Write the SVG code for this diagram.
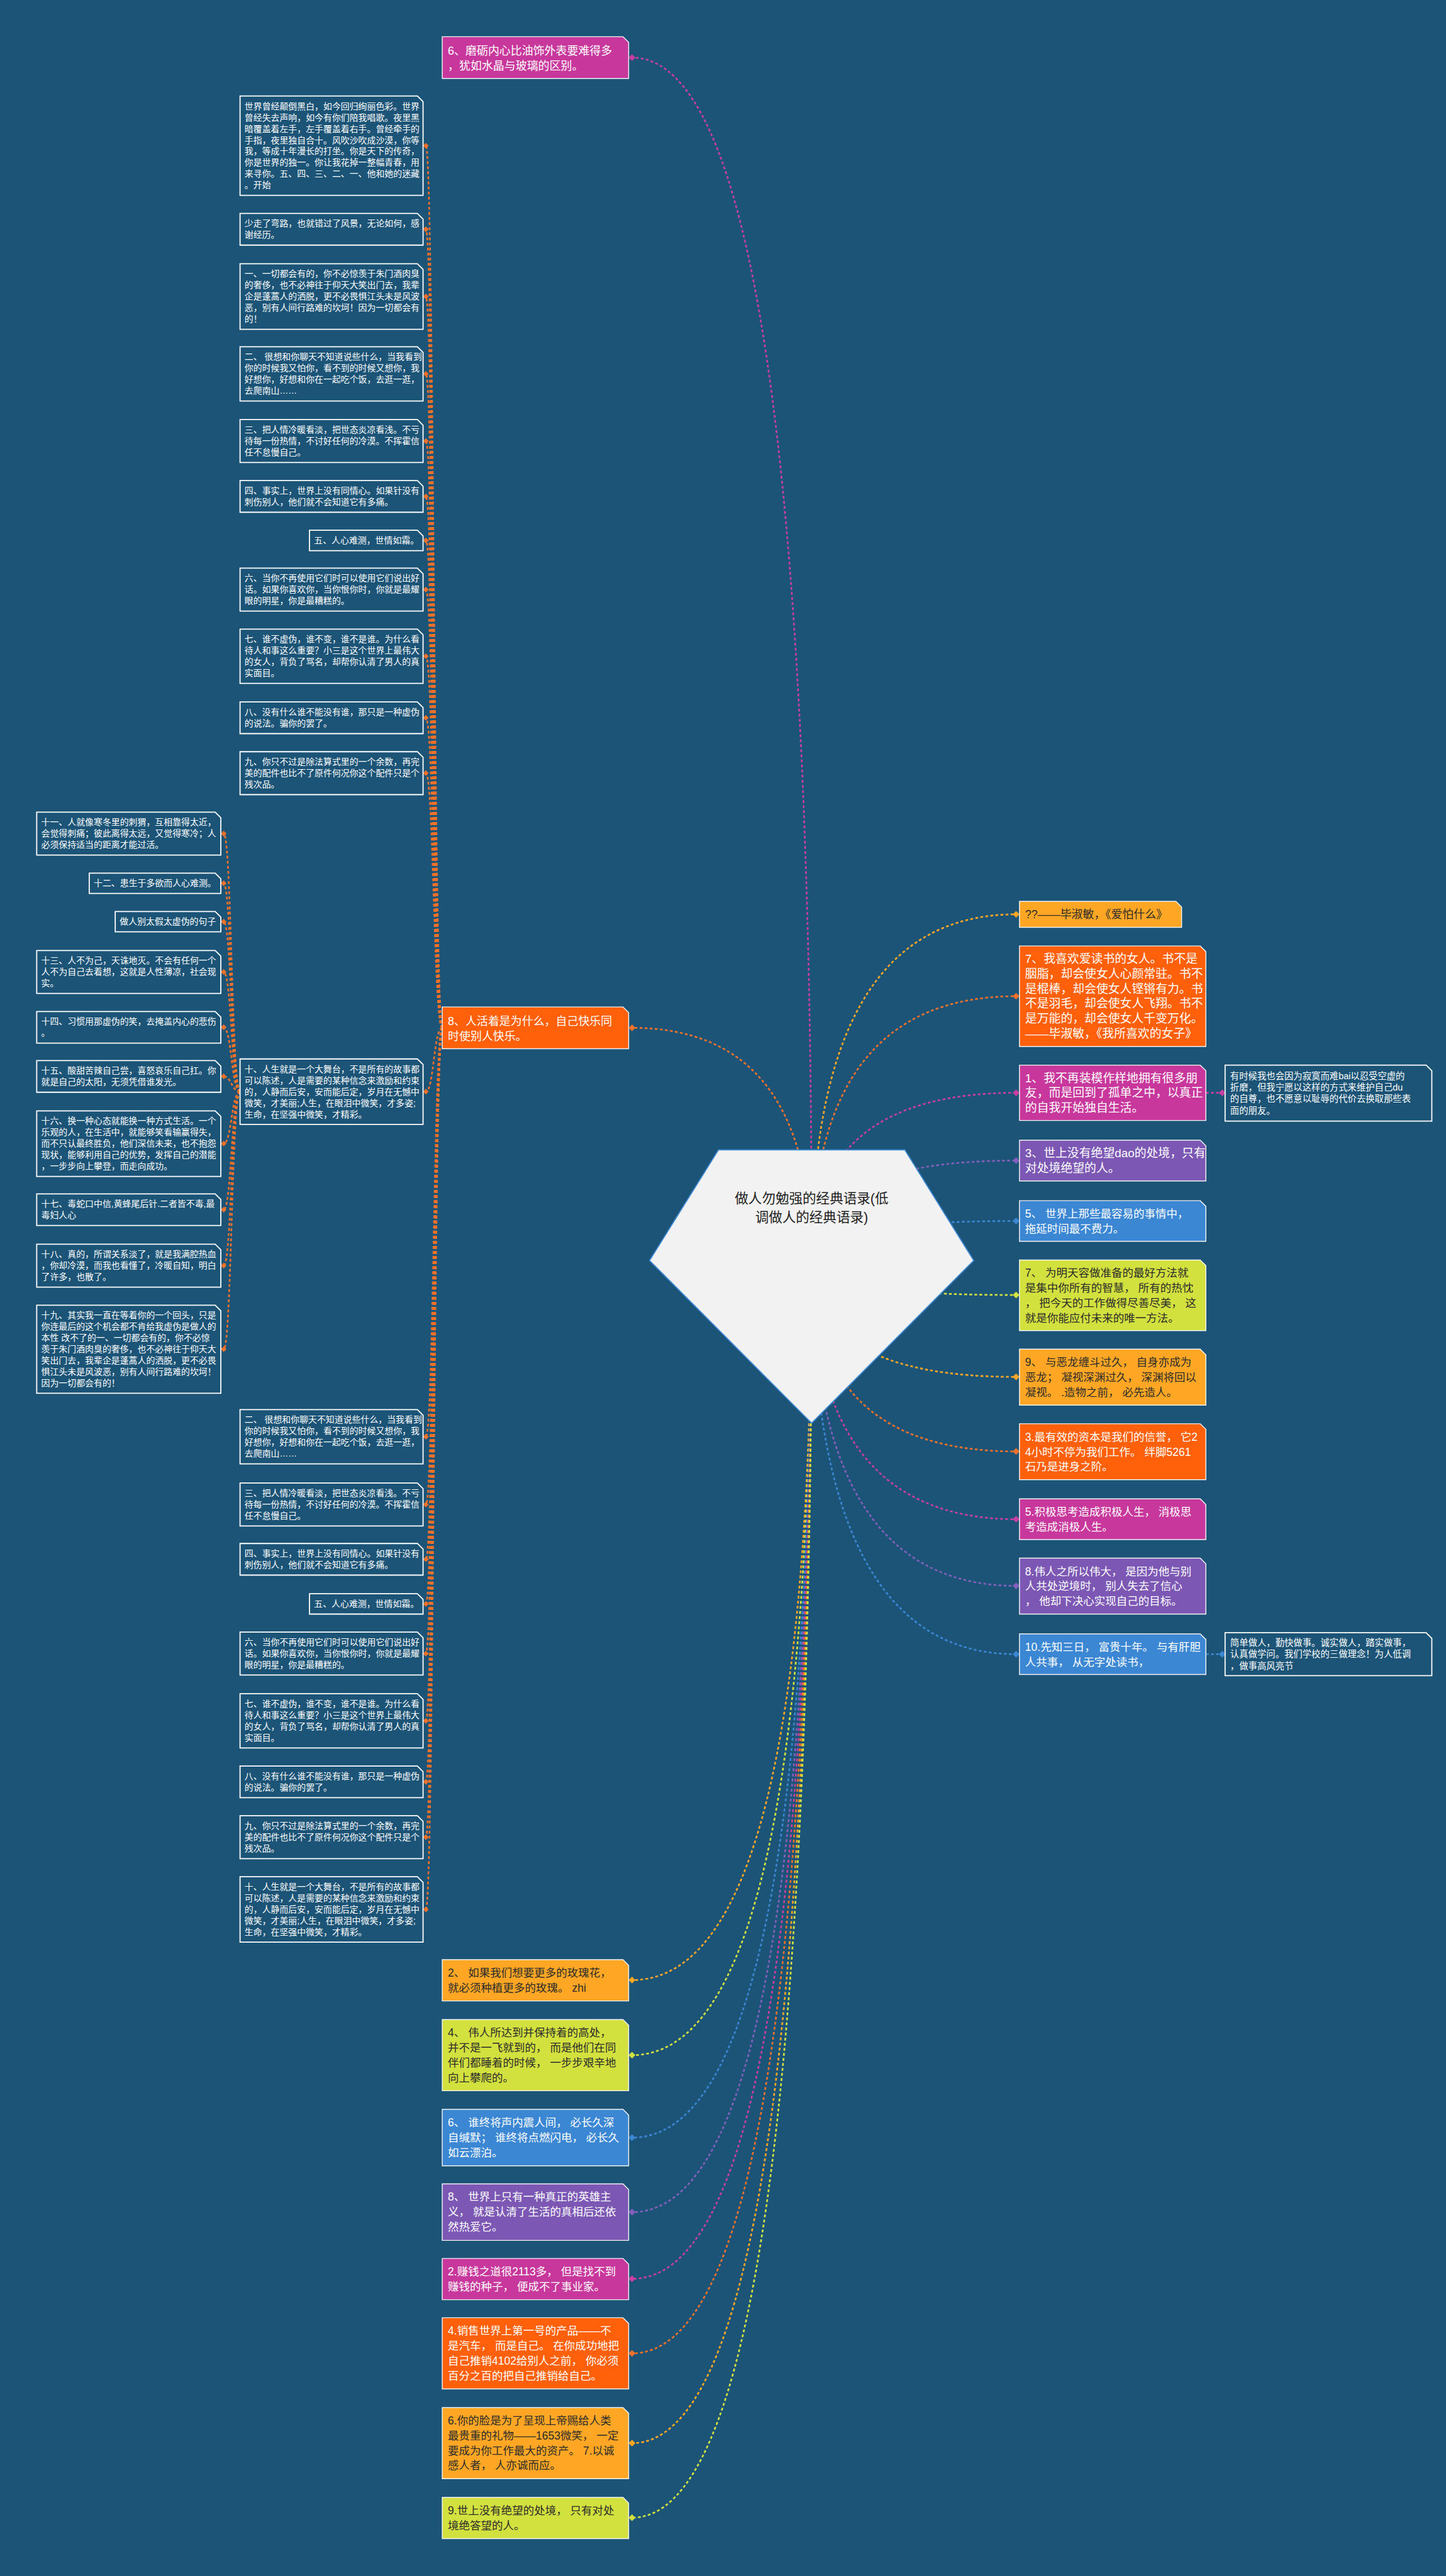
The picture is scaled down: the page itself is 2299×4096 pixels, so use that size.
<svg xmlns="http://www.w3.org/2000/svg" width="2299" height="4096" viewBox="0 0 2299 4096">
<defs>
<style>
text{font-family:"Liberation Sans","Noto Sans CJK SC",sans-serif}
.w{fill:#ffffff}
.d{fill:#2b2b2b}
.s1{font-size:15.5px}
.s2{font-size:21px}
.s3{font-size:19.5px}
.s4{font-size:20px}
.s5{font-size:16px}
.bx{stroke:#ffffff;stroke-width:2}
.cb{stroke:#f4f4f4;stroke-width:1.6}
.dk{fill:#1c5478}
.mg{fill:#C8379C}
.or{fill:#FF6009}
.oy{fill:#FFA724}
.pu{fill:#7C57B4}
.bl{fill:#3B87D4}
.yg{fill:#D3E13F}
.cn{fill:none;stroke-width:3;stroke-dasharray:5 4}
.c-or{stroke:#F0712A;marker-end:url(#d-or)}
.c-mg{stroke:#C83FA0;marker-end:url(#d-mg)}
.c-oy{stroke:#FFA724;marker-end:url(#d-oy)}
.c-pu{stroke:#8460BC;marker-end:url(#d-pu)}
.c-bl{stroke:#3B87D4;marker-end:url(#d-bl)}
.c-yg{stroke:#D3E13F;marker-end:url(#d-yg)}
.c-sm{stroke:#F0712A;marker-end:url(#d-sm)}
</style>
<marker id="d-or" markerUnits="userSpaceOnUse" viewBox="0 0 12 12" refX="6" refY="6" markerWidth="12" markerHeight="12"><path d="M6 0L12 6L6 12L0 6Z" fill="#F0712A"/></marker>
<marker id="d-mg" markerUnits="userSpaceOnUse" viewBox="0 0 12 12" refX="6" refY="6" markerWidth="12" markerHeight="12"><path d="M6 0L12 6L6 12L0 6Z" fill="#C83FA0"/></marker>
<marker id="d-oy" markerUnits="userSpaceOnUse" viewBox="0 0 12 12" refX="6" refY="6" markerWidth="12" markerHeight="12"><path d="M6 0L12 6L6 12L0 6Z" fill="#FFA724"/></marker>
<marker id="d-pu" markerUnits="userSpaceOnUse" viewBox="0 0 12 12" refX="6" refY="6" markerWidth="12" markerHeight="12"><path d="M6 0L12 6L6 12L0 6Z" fill="#8460BC"/></marker>
<marker id="d-bl" markerUnits="userSpaceOnUse" viewBox="0 0 12 12" refX="6" refY="6" markerWidth="12" markerHeight="12"><path d="M6 0L12 6L6 12L0 6Z" fill="#3B87D4"/></marker>
<marker id="d-yg" markerUnits="userSpaceOnUse" viewBox="0 0 12 12" refX="6" refY="6" markerWidth="12" markerHeight="12"><path d="M6 0L12 6L6 12L0 6Z" fill="#D3E13F"/></marker>
<marker id="d-sm" markerUnits="userSpaceOnUse" viewBox="0 0 10 10" refX="5" refY="5" markerWidth="10" markerHeight="10"><path d="M5 0L10 5L5 10L0 5Z" fill="#F0712A"/></marker>
</defs>
<rect x="0" y="0" width="2299" height="4096" fill="#1c5478"/>
<g transform="scale(0.898)">
<g id="connectors">
<path class="cn c-mg" d="M1437 2232Q1437 102 1119 102"/>
<path class="cn c-or" d="M1437 2232Q1437 1820 1119 1820"/>
<path class="cn c-oy" d="M1437 2232Q1437 1619 1799 1619"/>
<path class="cn c-or" d="M1437 2232Q1437 1764 1799 1764"/>
<path class="cn c-mg" d="M1437 2232Q1437 1935 1799 1935"/>
<path class="cn c-pu" d="M1437 2232Q1437 2055 1799 2055"/>
<path class="cn c-bl" d="M1437 2232Q1437 2162 1799 2162"/>
<path class="cn c-yg" d="M1437 2232Q1437 2293 1799 2293"/>
<path class="cn c-oy" d="M1437 2232Q1437 2438 1799 2438"/>
<path class="cn c-or" d="M1437 2232Q1437 2570 1799 2570"/>
<path class="cn c-mg" d="M1437 2232Q1437 2690 1799 2690"/>
<path class="cn c-pu" d="M1437 2232Q1437 2808 1799 2808"/>
<path class="cn c-bl" d="M1437 2232Q1437 2929 1799 2929"/>
<path class="cn c-oy" d="M1437 2232Q1437 3506 1119 3506"/>
<path class="cn c-yg" d="M1437 2232Q1437 3639 1119 3639"/>
<path class="cn c-bl" d="M1437 2232Q1437 3785 1119 3785"/>
<path class="cn c-pu" d="M1437 2232Q1437 3917 1119 3917"/>
<path class="cn c-mg" d="M1437 2232Q1437 4035 1119 4035"/>
<path class="cn c-or" d="M1437 2232Q1437 4167 1119 4167"/>
<path class="cn c-oy" d="M1437 2232Q1437 4326 1119 4326"/>
<path class="cn c-yg" d="M1437 2232Q1437 4458 1119 4458"/>
<path class="cn c-mg" d="M2135 1935L2164 1935"/>
<path class="cn c-bl" d="M2135 2929L2164 2929"/>
<path class="cn c-sm" d="M783 1820C768 1820 768 258 754 258"/>
<path class="cn c-sm" d="M783 1820C768 1820 768 406 754 406"/>
<path class="cn c-sm" d="M783 1820C768 1820 768 525 754 525"/>
<path class="cn c-sm" d="M783 1820C768 1820 768 662 754 662"/>
<path class="cn c-sm" d="M783 1820C768 1820 768 781 754 781"/>
<path class="cn c-sm" d="M783 1820C768 1820 768 879 754 879"/>
<path class="cn c-sm" d="M783 1820C768 1820 768 957 754 957"/>
<path class="cn c-sm" d="M783 1820C768 1820 768 1044 754 1044"/>
<path class="cn c-sm" d="M783 1820C768 1820 768 1162 754 1162"/>
<path class="cn c-sm" d="M783 1820C768 1820 768 1271 754 1271"/>
<path class="cn c-sm" d="M783 1820C768 1820 768 1369 754 1369"/>
<path class="cn c-sm" d="M783 1820C768 1820 768 1933 754 1933"/>
<path class="cn c-sm" d="M783 1820C768 1820 768 2544 754 2544"/>
<path class="cn c-sm" d="M783 1820C768 1820 768 2664 754 2664"/>
<path class="cn c-sm" d="M783 1820C768 1820 768 2761 754 2761"/>
<path class="cn c-sm" d="M783 1820C768 1820 768 2840 754 2840"/>
<path class="cn c-sm" d="M783 1820C768 1820 768 2928 754 2928"/>
<path class="cn c-sm" d="M783 1820C768 1820 768 3047 754 3047"/>
<path class="cn c-sm" d="M783 1820C768 1820 768 3155 754 3155"/>
<path class="cn c-sm" d="M783 1820C768 1820 768 3253 754 3253"/>
<path class="cn c-sm" d="M783 1820C768 1820 768 3381 754 3381"/>
<path class="cn c-sm" d="M425 1933C410 1933 410 1476 396 1476"/>
<path class="cn c-sm" d="M425 1933C410 1933 410 1564 396 1564"/>
<path class="cn c-sm" d="M425 1933C410 1933 410 1632 396 1632"/>
<path class="cn c-sm" d="M425 1933C410 1933 410 1721 396 1721"/>
<path class="cn c-sm" d="M425 1933C410 1933 410 1819 396 1819"/>
<path class="cn c-sm" d="M425 1933C410 1933 410 1906 396 1906"/>
<path class="cn c-sm" d="M425 1933C410 1933 410 2025 396 2025"/>
<path class="cn c-sm" d="M425 1933C410 1933 410 2142 396 2142"/>
<path class="cn c-sm" d="M425 1933C410 1933 410 2241 396 2241"/>
<path class="cn c-sm" d="M425 1933C410 1933 410 2389 396 2389"/>
</g>

<g id="root">
<path d="M1272 2036H1602L1724 2232L1437 2520L1150 2232Z" fill="#F2F2F2" stroke="#3B87D4" stroke-width="2"/>
<text x="1437" y="2130" text-anchor="middle" style="font-size:24px;fill:#1e1e1e"><tspan x="1437">做人勿勉强的经典语录(低</tspan><tspan x="1437" dy="34">调做人的经典语录)</tspan></text>
</g>

<g id="n-top6">
<path class="cb mg" d="M783 65H1103L1113 75V139H783Z"/>
<text class="s4 w" x="793" y="97"><tspan x="793">6、磨砺内心比油饰外表要难得多</tspan><tspan x="793" dy="26.5">，犹如水晶与玻璃的区别。</tspan></text>
</g>

<g id="n-8">
<path class="cb or" d="M783 1783H1103L1113 1793V1857H783Z"/>
<text class="s4 w" x="793" y="1815"><tspan x="793">8、人活着是为什么，自己快乐同</tspan><tspan x="793" dy="26.5">时使别人快乐。</tspan></text>
</g>

<g id="a1">
<path class="bx dk" d="M425 170H739L749 180V346H425Z"/>
<text class="s1 w" x="433" y="193.4"><tspan x="433">世界曾经颠倒黑白，如今回归绚丽色彩。世界</tspan><tspan x="433" dy="20">曾经失去声响，如今有你们陪我唱歌。夜里黑</tspan><tspan x="433" dy="20">暗覆盖着左手，左手覆盖着右手。曾经牵手的</tspan><tspan x="433" dy="20">手指，夜里独自合十。风吹沙吹成沙漠，你等</tspan><tspan x="433" dy="20">我，等成十年漫长的打坐。你是天下的传奇，</tspan><tspan x="433" dy="20">你是世界的独一。你让我花掉一整幅青春，用</tspan><tspan x="433" dy="20">来寻你。五、四、三、二、一、他和她的迷藏</tspan><tspan x="433" dy="20">。开始</tspan></text>
</g>
<g id="a2">
<path class="bx dk" d="M425 378H739L749 388V434H425Z"/>
<text class="s1 w" x="433" y="401.4"><tspan x="433">少走了弯路，也就错过了风景，无论如何，感</tspan><tspan x="433" dy="20">谢经历。</tspan></text>
</g>
<g id="a3">
<path class="bx dk" d="M425 467H739L749 477V583H425Z"/>
<text class="s1 w" x="433" y="490.4"><tspan x="433">一、一切都会有的，你不必惊羡于朱门酒肉臭</tspan><tspan x="433" dy="20">的奢侈，也不必神往于仰天大笑出门去，我辈</tspan><tspan x="433" dy="20">企是蓬蒿人的洒脱，更不必畏惧江头未是风波</tspan><tspan x="433" dy="20">恶，别有人间行路难的坎坷！因为一切都会有</tspan><tspan x="433" dy="20">的！</tspan></text>
</g>
<g id="a4">
<path class="bx dk" d="M425 614H739L749 624V710H425Z"/>
<text class="s1 w" x="433" y="637.4"><tspan x="433">二、 很想和你聊天不知道说些什么，当我看到</tspan><tspan x="433" dy="20">你的时候我又怕你，看不到的时候又想你，我</tspan><tspan x="433" dy="20">好想你，好想和你在一起吃个饭，去逛一逛，</tspan><tspan x="433" dy="20">去爬南山……</tspan></text>
</g>
<g id="a5">
<path class="bx dk" d="M425 743H739L749 753V819H425Z"/>
<text class="s1 w" x="433" y="766.4"><tspan x="433">三、把人情冷暖看淡，把世态炎凉看浅。不亏</tspan><tspan x="433" dy="20">待每一份热情，不讨好任何的冷漠。不挥霍信</tspan><tspan x="433" dy="20">任不怠慢自己。</tspan></text>
</g>
<g id="a6">
<path class="bx dk" d="M425 851H739L749 861V907H425Z"/>
<text class="s1 w" x="433" y="874.4"><tspan x="433">四、事实上，世界上没有同情心。如果针没有</tspan><tspan x="433" dy="20">刺伤别人，他们就不会知道它有多痛。</tspan></text>
</g>
<g id="a7">
<path class="bx dk" d="M548 939H739L749 949V975H548Z"/>
<text class="s1 w" x="556" y="962.4">五、人心难测，世情如霜。</text>
</g>
<g id="a8">
<path class="bx dk" d="M425 1006H739L749 1016V1082H425Z"/>
<text class="s1 w" x="433" y="1029.4"><tspan x="433">六、当你不再使用它们时可以使用它们说出好</tspan><tspan x="433" dy="20">话。如果你喜欢你，当你恨你时，你就是最耀</tspan><tspan x="433" dy="20">眼的明星，你是最糟糕的。</tspan></text>
</g>
<g id="a9">
<path class="bx dk" d="M425 1114H739L749 1124V1210H425Z"/>
<text class="s1 w" x="433" y="1137.4"><tspan x="433">七、谁不虚伪，谁不变，谁不是谁。为什么看</tspan><tspan x="433" dy="20">待人和事这么重要？小三是这个世界上最伟大</tspan><tspan x="433" dy="20">的女人，背负了骂名，却帮你认清了男人的真</tspan><tspan x="433" dy="20">实面目。</tspan></text>
</g>
<g id="a10">
<path class="bx dk" d="M425 1243H739L749 1253V1299H425Z"/>
<text class="s1 w" x="433" y="1266.4"><tspan x="433">八、没有什么谁不能没有谁，那只是一种虚伪</tspan><tspan x="433" dy="20">的说法。骗你的罢了。</tspan></text>
</g>
<g id="a11">
<path class="bx dk" d="M425 1331H739L749 1341V1407H425Z"/>
<text class="s1 w" x="433" y="1354.4"><tspan x="433">九、你只不过是除法算式里的一个余数，再完</tspan><tspan x="433" dy="20">美的配件也比不了原件何况你这个配件只是个</tspan><tspan x="433" dy="20">残次品。</tspan></text>
</g>
<g id="a12">
<path class="bx dk" d="M425 1875H739L749 1885V1991H425Z"/>
<text class="s1 w" x="433" y="1898.4"><tspan x="433">十、人生就是一个大舞台，不是所有的故事都</tspan><tspan x="433" dy="20">可以陈述，人是需要的某种信念来激励和约束</tspan><tspan x="433" dy="20">的，人静而后安，安而能后定，岁月在无憾中</tspan><tspan x="433" dy="20">微笑，才美丽;人生，在眼泪中微笑，才多姿;</tspan><tspan x="433" dy="20">生命，在坚强中微笑，才精彩。</tspan></text>
</g>

<g id="f11">
<path class="bx dk" d="M65 1438H381L391 1448V1514H65Z"/>
<text class="s1 w" x="73" y="1461.4"><tspan x="73">十一、人就像寒冬里的刺猬，互相靠得太近，</tspan><tspan x="73" dy="20">会觉得刺痛；彼此离得太远，又觉得寒冷；人</tspan><tspan x="73" dy="20">必须保持适当的距离才能过活。</tspan></text>
</g>
<g id="f12">
<path class="bx dk" d="M158 1546H381L391 1556V1582H158Z"/>
<text class="s1 w" x="166" y="1569.4">十二、患生于多欲而人心难测。</text>
</g>
<g id="f-zuoren">
<path class="bx dk" d="M204 1614H381L391 1624V1650H204Z"/>
<text class="s1 w" x="212" y="1637.4">做人别太假太虚伪的句子</text>
</g>
<g id="f13">
<path class="bx dk" d="M65 1683H381L391 1693V1759H65Z"/>
<text class="s1 w" x="73" y="1706.4"><tspan x="73">十三、人不为己，天诛地灭。不会有任何一个</tspan><tspan x="73" dy="20">人不为自己去着想，这就是人性薄凉，社会现</tspan><tspan x="73" dy="20">实。</tspan></text>
</g>
<g id="f14">
<path class="bx dk" d="M65 1791H381L391 1801V1847H65Z"/>
<text class="s1 w" x="73" y="1814.4"><tspan x="73">十四、习惯用那虚伪的笑，去掩盖内心的悲伤</tspan><tspan x="73" dy="20">。</tspan></text>
</g>
<g id="f15">
<path class="bx dk" d="M65 1878H381L391 1888V1934H65Z"/>
<text class="s1 w" x="73" y="1901.4"><tspan x="73">十五、酸甜苦辣自己尝，喜怒哀乐自己扛。你</tspan><tspan x="73" dy="20">就是自己的太阳，无须凭借谁发光。</tspan></text>
</g>
<g id="f16">
<path class="bx dk" d="M65 1967H381L391 1977V2083H65Z"/>
<text class="s1 w" x="73" y="1990.4"><tspan x="73">十六、换一种心态就能换一种方式生活。一个</tspan><tspan x="73" dy="20">乐观的人，在生活中，就能够笑看输赢得失，</tspan><tspan x="73" dy="20">而不只认最终胜负，他们深信未来，也不抱怨</tspan><tspan x="73" dy="20">现状，能够利用自己的优势，发挥自己的潜能</tspan><tspan x="73" dy="20">，一步步向上攀登，而走向成功。</tspan></text>
</g>
<g id="f17">
<path class="bx dk" d="M65 2114H381L391 2124V2170H65Z"/>
<text class="s1 w" x="73" y="2137.4"><tspan x="73">十七、毒蛇口中信,黄蜂尾后针.二者皆不毒,最</tspan><tspan x="73" dy="20">毒妇人心</tspan></text>
</g>
<g id="f18">
<path class="bx dk" d="M65 2203H381L391 2213V2279H65Z"/>
<text class="s1 w" x="73" y="2226.4"><tspan x="73">十八、真的，所谓关系淡了，就是我满腔热血</tspan><tspan x="73" dy="20">，你却冷漠，而我也看懂了，冷暖自知，明白</tspan><tspan x="73" dy="20">了许多，也散了。</tspan></text>
</g>
<g id="f19">
<path class="bx dk" d="M65 2311H381L391 2321V2467H65Z"/>
<text class="s1 w" x="73" y="2334.4"><tspan x="73">十九、其实我一直在等着你的一个回头，只是</tspan><tspan x="73" dy="20">你连最后的这个机会都不肯给我虚伪是做人的</tspan><tspan x="73" dy="20">本性 改不了的一、一切都会有的，你不必惊</tspan><tspan x="73" dy="20">羡于朱门酒肉臭的奢侈，也不必神往于仰天大</tspan><tspan x="73" dy="20">笑出门去，我辈企是蓬蒿人的洒脱，更不必畏</tspan><tspan x="73" dy="20">惧江头未是风波恶，别有人间行路难的坎坷！</tspan><tspan x="73" dy="20">因为一切都会有的！</tspan></text>
</g>

<g id="b2">
<path class="bx dk" d="M425 2496H739L749 2506V2592H425Z"/>
<text class="s1 w" x="433" y="2519.4"><tspan x="433">二、 很想和你聊天不知道说些什么，当我看到</tspan><tspan x="433" dy="20">你的时候我又怕你，看不到的时候又想你，我</tspan><tspan x="433" dy="20">好想你，好想和你在一起吃个饭，去逛一逛，</tspan><tspan x="433" dy="20">去爬南山……</tspan></text>
</g>
<g id="b3">
<path class="bx dk" d="M425 2626H739L749 2636V2702H425Z"/>
<text class="s1 w" x="433" y="2649.4"><tspan x="433">三、把人情冷暖看淡，把世态炎凉看浅。不亏</tspan><tspan x="433" dy="20">待每一份热情，不讨好任何的冷漠。不挥霍信</tspan><tspan x="433" dy="20">任不怠慢自己。</tspan></text>
</g>
<g id="b4">
<path class="bx dk" d="M425 2733H739L749 2743V2789H425Z"/>
<text class="s1 w" x="433" y="2756.4"><tspan x="433">四、事实上，世界上没有同情心。如果针没有</tspan><tspan x="433" dy="20">刺伤别人，他们就不会知道它有多痛。</tspan></text>
</g>
<g id="b5">
<path class="bx dk" d="M548 2822H739L749 2832V2858H548Z"/>
<text class="s1 w" x="556" y="2845.4">五、人心难测，世情如霜。</text>
</g>
<g id="b6">
<path class="bx dk" d="M425 2890H739L749 2900V2966H425Z"/>
<text class="s1 w" x="433" y="2913.4"><tspan x="433">六、当你不再使用它们时可以使用它们说出好</tspan><tspan x="433" dy="20">话。如果你喜欢你，当你恨你时，你就是最耀</tspan><tspan x="433" dy="20">眼的明星，你是最糟糕的。</tspan></text>
</g>
<g id="b7">
<path class="bx dk" d="M425 2999H739L749 3009V3095H425Z"/>
<text class="s1 w" x="433" y="3022.4"><tspan x="433">七、谁不虚伪，谁不变，谁不是谁。为什么看</tspan><tspan x="433" dy="20">待人和事这么重要？小三是这个世界上最伟大</tspan><tspan x="433" dy="20">的女人，背负了骂名，却帮你认清了男人的真</tspan><tspan x="433" dy="20">实面目。</tspan></text>
</g>
<g id="b8">
<path class="bx dk" d="M425 3127H739L749 3137V3183H425Z"/>
<text class="s1 w" x="433" y="3150.4"><tspan x="433">八、没有什么谁不能没有谁，那只是一种虚伪</tspan><tspan x="433" dy="20">的说法。骗你的罢了。</tspan></text>
</g>
<g id="b9">
<path class="bx dk" d="M425 3215H739L749 3225V3291H425Z"/>
<text class="s1 w" x="433" y="3238.4"><tspan x="433">九、你只不过是除法算式里的一个余数，再完</tspan><tspan x="433" dy="20">美的配件也比不了原件何况你这个配件只是个</tspan><tspan x="433" dy="20">残次品。</tspan></text>
</g>
<g id="b10">
<path class="bx dk" d="M425 3323H739L749 3333V3439H425Z"/>
<text class="s1 w" x="433" y="3346.4"><tspan x="433">十、人生就是一个大舞台，不是所有的故事都</tspan><tspan x="433" dy="20">可以陈述，人是需要的某种信念来激励和约束</tspan><tspan x="433" dy="20">的，人静而后安，安而能后定，岁月在无憾中</tspan><tspan x="433" dy="20">微笑，才美丽;人生，在眼泪中微笑，才多姿;</tspan><tspan x="433" dy="20">生命，在坚强中微笑，才精彩。</tspan></text>
</g>

<g id="r1">
<path class="cb oy" d="M1805 1596H2082L2092 1606V1642H1805Z"/>
<text class="s4 d" x="1815" y="1626">??——毕淑敏，《爱怕什么》</text>
</g>
<g id="r2">
<path class="cb or" d="M1805 1675H2125L2135 1685V1853H1805Z"/>
<text class="s2 w" x="1815" y="1705"><tspan x="1815">7、我喜欢爱读书的女人。书不是</tspan><tspan x="1815" dy="26.5">胭脂，却会使女人心颜常驻。书不</tspan><tspan x="1815" dy="26.5">是棍棒，却会使女人铿锵有力。书</tspan><tspan x="1815" dy="26.5">不是羽毛，却会使女人飞翔。书不</tspan><tspan x="1815" dy="26.5">是万能的，却会使女人千变万化。</tspan><tspan x="1815" dy="26.5">——毕淑敏，《我所喜欢的女子》</tspan></text>
</g>
<g id="r3">
<path class="cb mg" d="M1805 1886H2125L2135 1896V1984H1805Z"/>
<text class="s2 w" x="1815" y="1916"><tspan x="1815">1、我不再装模作样地拥有很多朋</tspan><tspan x="1815" dy="26.5">友，而是回到了孤单之中，以真正</tspan><tspan x="1815" dy="26.5">的自我开始独自生活。</tspan></text>
</g>
<g id="r3c">
<path class="bx dk" d="M2169 1886H2525L2535 1896V1985H2169Z"/>
<text class="s5 w" x="2178" y="1910.5"><tspan x="2178">有时候我也会因为寂寞而难bai以忍受空虚的</tspan><tspan x="2178" dy="20.5">折磨，但我宁愿以这样的方式来维护自己du</tspan><tspan x="2178" dy="20.5">的自尊，也不愿意以耻辱的代价去换取那些表</tspan><tspan x="2178" dy="20.5">面的朋友。</tspan></text>
</g>
<g id="r4">
<path class="cb pu" d="M1805 2019H2125L2135 2029V2091H1805Z"/>
<text class="s2 w" x="1815" y="2049"><tspan x="1815">3、世上没有绝望dao的处境，只有</tspan><tspan x="1815" dy="26.5">对处境绝望的人。</tspan></text>
</g>
<g id="r5">
<path class="cb bl" d="M1805 2126H2125L2135 2136V2198H1805Z"/>
<text class="s3 w" x="1815" y="2156"><tspan x="1815">5、 世界上那些最容易的事情中，</tspan><tspan x="1815" dy="26.5">拖延时间最不费力。</tspan></text>
</g>
<g id="r6">
<path class="cb yg" d="M1805 2231H2125L2135 2241V2356H1805Z"/>
<text class="s3 d" x="1815" y="2261"><tspan x="1815">7、 为明天容做准备的最好方法就</tspan><tspan x="1815" dy="26.5">是集中你所有的智慧， 所有的热忱</tspan><tspan x="1815" dy="26.5">， 把今天的工作做得尽善尽美， 这</tspan><tspan x="1815" dy="26.5">就是你能应付未来的唯一方法。</tspan></text>
</g>
<g id="r7">
<path class="cb oy" d="M1805 2389H2125L2135 2399V2488H1805Z"/>
<text class="s3 d" x="1815" y="2419"><tspan x="1815">9、 与恶龙缠斗过久， 自身亦成为</tspan><tspan x="1815" dy="26.5">恶龙； 凝视深渊过久， 深渊将回以</tspan><tspan x="1815" dy="26.5">凝视。 .造物之前， 必先造人。</tspan></text>
</g>
<g id="r8">
<path class="cb or" d="M1805 2521H2125L2135 2531V2620H1805Z"/>
<text class="s3 w" x="1815" y="2551"><tspan x="1815">3.最有效的资本是我们的信誉， 它2</tspan><tspan x="1815" dy="26.5">4小时不停为我们工作。 绊脚5261</tspan><tspan x="1815" dy="26.5">石乃是进身之阶。</tspan></text>
</g>
<g id="r9">
<path class="cb mg" d="M1805 2654H2125L2135 2664V2726H1805Z"/>
<text class="s3 w" x="1815" y="2684"><tspan x="1815">5.积极思考造成积极人生， 消极思</tspan><tspan x="1815" dy="26.5">考造成消极人生。</tspan></text>
</g>
<g id="r10">
<path class="cb pu" d="M1805 2759H2125L2135 2769V2858H1805Z"/>
<text class="s3 w" x="1815" y="2789"><tspan x="1815">8.伟人之所以伟大， 是因为他与别</tspan><tspan x="1815" dy="26.5">人共处逆境时， 别人失去了信心</tspan><tspan x="1815" dy="26.5">， 他却下决心实现自己的目标。</tspan></text>
</g>
<g id="r11">
<path class="cb bl" d="M1805 2893H2125L2135 2903V2965H1805Z"/>
<text class="s3 w" x="1815" y="2923"><tspan x="1815">10.先知三日， 富贵十年。 与有肝胆</tspan><tspan x="1815" dy="26.5">人共事， 从无字处读书，</tspan></text>
</g>
<g id="r11c">
<path class="bx dk" d="M2169 2891H2525L2535 2901V2967H2169Z"/>
<text class="s5 w" x="2178" y="2914"><tspan x="2178">简单做人，勤快做事。诚实做人，踏实做事，</tspan><tspan x="2178" dy="20.5">认真做学问。我们学校的三做理念！为人低调</tspan><tspan x="2178" dy="20.5">，做事高风亮节</tspan></text>
</g>

<g id="bt1">
<path class="cb oy" d="M783 3470H1103L1113 3480V3543H783Z"/>
<text class="s3 d" x="793" y="3500"><tspan x="793">2、 如果我们想要更多的玫瑰花，</tspan><tspan x="793" dy="26.5">就必须种植更多的玫瑰。 zhi</tspan></text>
</g>
<g id="bt2">
<path class="cb yg" d="M783 3576H1103L1113 3586V3702H783Z"/>
<text class="s3 d" x="793" y="3606"><tspan x="793">4、 伟人所达到并保持着的高处，</tspan><tspan x="793" dy="26.5">并不是一飞就到的， 而是他们在同</tspan><tspan x="793" dy="26.5">伴们都睡着的时候， 一步步艰辛地</tspan><tspan x="793" dy="26.5">向上攀爬的。</tspan></text>
</g>
<g id="bt3">
<path class="cb bl" d="M783 3735H1103L1113 3745V3835H783Z"/>
<text class="s3 w" x="793" y="3765"><tspan x="793">6、 谁终将声内震人间， 必长久深</tspan><tspan x="793" dy="26.5">自缄默； 谁终将点燃闪电， 必长久</tspan><tspan x="793" dy="26.5">如云漂泊。</tspan></text>
</g>
<g id="bt4">
<path class="cb pu" d="M783 3867H1103L1113 3877V3967H783Z"/>
<text class="s3 w" x="793" y="3897"><tspan x="793">8、 世界上只有一种真正的英雄主</tspan><tspan x="793" dy="26.5">义， 就是认清了生活的真相后还依</tspan><tspan x="793" dy="26.5">然热爱它。</tspan></text>
</g>
<g id="bt5">
<path class="cb mg" d="M783 3999H1103L1113 4009V4072H783Z"/>
<text class="s3 w" x="793" y="4029"><tspan x="793">2.赚钱之道很2113多， 但是找不到</tspan><tspan x="793" dy="26.5">赚钱的种子， 便成不了事业家。</tspan></text>
</g>
<g id="bt6">
<path class="cb or" d="M783 4104H1103L1113 4114V4230H783Z"/>
<text class="s3 w" x="793" y="4134"><tspan x="793">4.销售世界上第一号的产品——不</tspan><tspan x="793" dy="26.5">是汽车， 而是自己。 在你成功地把</tspan><tspan x="793" dy="26.5">自己推销4102给别人之前， 你必须</tspan><tspan x="793" dy="26.5">百分之百的把自己推销给自己。</tspan></text>
</g>
<g id="bt7">
<path class="cb oy" d="M783 4263H1103L1113 4273V4389H783Z"/>
<text class="s3 d" x="793" y="4293"><tspan x="793">6.你的脸是为了呈现上帝赐给人类</tspan><tspan x="793" dy="26.5">最贵重的礼物——1653微笑， 一定</tspan><tspan x="793" dy="26.5">要成为你工作最大的资产。 7.以诚</tspan><tspan x="793" dy="26.5">感人者， 人亦诚而应。</tspan></text>
</g>
<g id="bt8">
<path class="cb yg" d="M783 4422H1103L1113 4432V4495H783Z"/>
<text class="s3 d" x="793" y="4452"><tspan x="793">9.世上没有绝望的处境， 只有对处</tspan><tspan x="793" dy="26.5">境绝答望的人。</tspan></text>
</g>
</g>
</svg>
